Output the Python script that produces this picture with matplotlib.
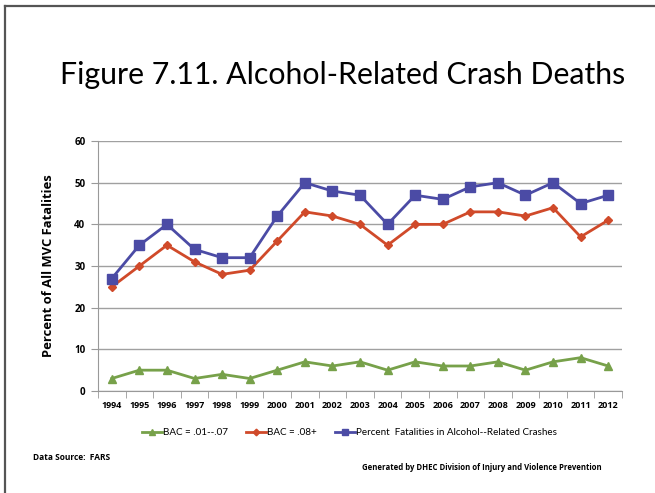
import matplotlib.pyplot as plt
from matplotlib.lines import Line2D

years = [str(y) for y in range(1994, 2013)]
bac_low = [3, 5, 5, 3, 4, 3, 5, 7, 6, 7, 5, 7, 6, 6, 7, 5, 7, 8, 6]
bac_high = [25, 30, 35, 31, 28, 29, 36, 43, 42, 40, 35, 40, 40, 43, 43, 42, 44, 37, 41]
pct_alcohol = [27, 35, 40, 34, 32, 32, 42, 50, 48, 47, 40, 47, 46, 49, 50, 47, 50, 45, 47]

labels = ["BAC = .01--.07", "BAC = .08+",
          "Percent  Fatalities in Alcohol--Related Crashes"]
colors = ["#77A14A", "#D04A2A", "#4B4BA5"]
markers = ["^", "D", "s"]
msizes = [6, 4.5, 6.5]

plt.rcParams['font.family'] = ['Lato', 'DejaVu Sans']
BOLD = ['Open Sans', 'DejaVu Sans']

fig = plt.figure(figsize=(6.55, 4.93), dpi=100)

# frame around the slide (left and top edges only)
fig.add_artist(Line2D([0.008, 0.008], [0, 0.988], color="#555555", lw=1.6))
fig.add_artist(Line2D([0.008, 1.0], [0.988, 0.988], color="#555555", lw=1.6))

fig.text(0.523, 0.848, "Figure 7.11. Alcohol-Related Crash Deaths",
         ha="center", va="center", fontsize=21.8)

ax = fig.add_axes([0.1496, 0.2069, 0.80, 0.507])
x = list(range(len(years)))
for vals, lab, c, m, s in zip([bac_low, bac_high, pct_alcohol], labels, colors, markers, msizes):
    ax.plot(x, vals, color=c, lw=2, marker=m, markersize=s, label=lab)

ax.set_xlim(-0.5, len(years) - 0.5)
ax.set_ylim(0, 60)
ax.set_yticks(range(0, 61, 10))
ax.set_xticks(x)
ax.set_xticklabels(years)
ax.set_xticks([i + 0.5 for i in range(-1, len(years))], minor=True)
ax.tick_params(axis="x", which="major", length=0, pad=7)
ax.tick_params(axis="x", which="minor", length=5, color="#999999")
ax.tick_params(axis="y", length=5, color="#999999", pad=4)
for t in ax.get_xticklabels():
    t.set_family(BOLD)
    t.set_fontweight("bold")
    t.set_fontsize(6.5)
for t in ax.get_yticklabels():
    t.set_family(BOLD)
    t.set_fontweight("bold")
    t.set_fontsize(7)
ax.grid(axis="y", color="#A0A0A0", lw=1)
ax.set_axisbelow(True)
for side in ["top", "right"]:
    ax.spines[side].set_visible(False)
ax.spines["left"].set_color("#999999")
ax.spines["bottom"].set_color("#999999")
ax.set_ylabel("Percent of All MVC Fatalities", fontsize=9.4, fontweight="bold",
              family=BOLD, labelpad=14)

ax.legend(loc="center", bbox_to_anchor=(0.48, -0.168), ncol=3, frameon=False,
          fontsize=7.1, handlelength=2.0, handletextpad=0.1, columnspacing=1.9,
          markerscale=0.75)

fig.text(0.050, 0.071, "Data Source:  FARS", fontsize=6, fontweight="bold",
         family=BOLD, va="center")
fig.text(0.553, 0.051, "Generated by DHEC Division of Injury and Violence Prevention",
         fontsize=5.6, fontweight="bold", family=BOLD, va="center")

fig.savefig("out.png", dpi=100)
